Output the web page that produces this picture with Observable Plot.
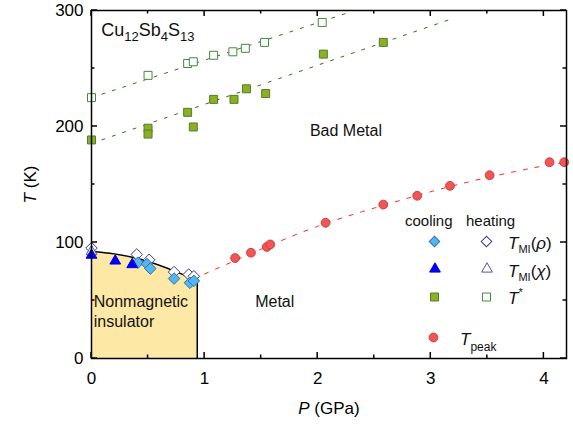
<!DOCTYPE html>
<html><head><meta charset="utf-8">
<script src="https://cdn.jsdelivr.net/npm/d3@7"></script>
<script src="https://cdn.jsdelivr.net/npm/@observablehq/plot@0.6"></script>
<style>
body{margin:0;background:#fff;}
#chart{position:relative;width:573px;height:425px;}
</style></head><body><div id="chart"></div>
<script>
// ---- data (P in GPa, T in K) ----
const tStarHeatP = [0.0, 0.5, 0.85, 0.9, 1.08, 1.25, 1.36, 1.53, 2.04];
const tStarHeatT = [224.9, 244.1, 254.3, 255.8, 261.4, 264.4, 267.4, 272.5, 289.7];
const tStarCoolP = [0.0, 0.5, 0.5, 0.85, 0.9, 1.08, 1.26, 1.37, 1.54, 2.05, 2.58];
const tStarCoolT = [188.4, 198.5, 193.5, 212.2, 199.6, 223.4, 223.4, 232.5, 228.4, 262.4, 272.5];
const tPeakP = [1.27, 1.41, 1.55, 1.58, 2.07, 2.58, 2.88, 3.17, 3.52, 4.05, 4.18];
const tPeakT = [86.6, 91.2, 96.2, 98.3, 117, 132.7, 140.3, 148.9, 158, 169.2, 169.2];
const rhoCoolP = [0.41, 0.49, 0.52, 0.73, 0.87, 0.905];
const rhoCoolT = [82.6, 81.5, 77.5, 68.9, 65.3, 66.9];
const rhoHeatP = [0.0, 0.40, 0.51, 0.73, 0.86, 0.905];
const rhoHeatT = [95.2, 89.7, 85.1, 74.5, 72.4, 70.9];
const chiCoolP = [0.0, 0.21, 0.36];
const chiCoolT = [89.1, 84.1, 81];
const chiHeatP = [0.0];
const chiHeatT = [92.2];
// insulator boundary
const insulP = [0, 0.2, 0.45, 0.73, 0.935];
const insulT = [92.2, 90.2, 85.1, 75.5, 66.9];
// guide lines
const fitUpperP = [0, 2.29], fitUpperT = [224.9, 298.8];
const fitLowerP = [0, 3.2], fitLowerT = [185.4, 293.3];
const fitPeakP = [1.0, 1.5, 2.0, 2.5, 3.0, 3.5, 4.0, 4.2];
const fitPeakT = [72.9, 94.2, 114, 129.7, 143.8, 156, 166.1, 169.2];
// ticks
const xMajor = [0, 1, 2, 3, 4], xMinor = [0.5, 1.5, 2.5, 3.5];
const yMajor = [0, 100, 200, 300], yMinor = [50, 150, 250];
// annotations
const annoText = ["Bad Metal", "Metal", "Nonmagnetic", "insulator"];
const annoP = [2.25, 1.62, 0.02, 0.02];
const annoT = [196.5, 48.6, 49.1, 31.4];
const annoAnchor = ["middle", "middle", "start", "start"];
const formula = "Cu12Sb4S13", formulaP = 0.086, formulaT = 282.6;

const xDomain = [0, 4.2], yDomain = [0, 300];
const zip = (P, T) => P.map((p, i) => ({P: p, T: T[i]}));
const insul = zip(insulP, insulT);
const anno = annoText.map((t, i) => ({t, P: annoP[i], T: annoT[i], a: annoAnchor[i]}));
const C = {
  blueFill: "#55b6ea", blueStroke: "#2a6fc0", tri: "#0000ee", openBlue: "#3a3a8c",
  greenFill: "#8fae22", greenStroke: "#4b7f2c", openGreen: "#3f8a3f", dashGreen: "#3d6b1a",
  red: "#f05656", redStroke: "#d63a3a", yellow: "#fde8a6"
};

const plot = Plot.plot({
  width: 573, height: 425,
  marginLeft: 91, marginRight: 7, marginTop: 10, marginBottom: 67,
  style: {fontFamily: "'Liberation Sans', Arial, sans-serif", fontSize: "17px", color: "black", background: "white"},
  x: {domain: xDomain},
  y: {domain: yDomain},
  marks: [
    Plot.areaY(insul, {x: "P", y: "T", fill: C.yellow, curve: "monotone-x"}),
    Plot.line(insul, {x: "P", y: "T", stroke: "black", strokeWidth: 1.5, curve: "monotone-x"}),
    Plot.ruleX([insul[insul.length - 1]], {x: "P", y1: 0, y2: "T", stroke: "black", strokeWidth: 1.5}),
    Plot.line(zip(fitUpperP, fitUpperT), {x: "P", y: "T", stroke: C.dashGreen, strokeWidth: 1, strokeDasharray: "3,8"}),
    Plot.line(zip(fitLowerP, fitLowerT), {x: "P", y: "T", stroke: C.dashGreen, strokeWidth: 1, strokeDasharray: "3,8"}),
    Plot.line(zip(fitPeakP, fitPeakT), {x: "P", y: "T", stroke: "#ff2020", strokeWidth: 1, strokeDasharray: "4,8", curve: "natural"}),
    Plot.dot(zip(tStarHeatP, tStarHeatT), {x: "P", y: "T", symbol: "square", r: 4.5, fill: "white", stroke: C.openGreen, strokeWidth: 1}),
    Plot.dot(zip(tStarCoolP, tStarCoolT), {x: "P", y: "T", symbol: "square", r: 4.5, fill: C.greenFill, stroke: C.greenStroke, strokeWidth: 1}),
    Plot.dot(zip(tPeakP, tPeakT), {x: "P", y: "T", r: 4.4, fill: C.red, stroke: C.redStroke, strokeWidth: 1}),
    Plot.dot(zip(rhoHeatP, rhoHeatT), {x: "P", y: "T", symbol: "diamond2", r: 5.2, fill: "white", stroke: C.openBlue, strokeWidth: 1}),
    Plot.dot(zip(chiHeatP, chiHeatT), {x: "P", y: "T", symbol: "triangle", r: 4, fill: "white", stroke: "#5555aa", strokeWidth: 1}),
    Plot.dot(zip(rhoCoolP, rhoCoolT), {x: "P", y: "T", symbol: "diamond2", r: 5.2, fill: C.blueFill, stroke: C.blueStroke, strokeWidth: 1}),
    Plot.dot(zip(chiCoolP, chiCoolT), {x: "P", y: "T", symbol: "triangle", r: 4, fill: C.tri, stroke: C.tri, strokeWidth: 1}),
    Plot.text(anno.filter(d => d.a === "middle"), {x: "P", y: "T", text: "t", fontSize: 16, textAnchor: "middle", fill: "#111"}),
    Plot.text(anno.filter(d => d.a === "start"), {x: "P", y: "T", text: "t", fontSize: 16, textAnchor: "start", fill: "#111"}),
    Plot.text([{t: formula, P: formulaP, T: formulaT}], {x: "P", y: "T", text: "t", fontSize: 18, textAnchor: "start", fill: "#111", className: "formula"}),
    Plot.axisX({ticks: xMajor, tickSize: 0, tickPadding: 13, tickFormat: d => d, label: "P (GPa)", labelAnchor: "center", labelOffset: 55, labelArrow: "none"}),
    Plot.axisY({ticks: yMajor, tickSize: 0, tickPadding: 8, tickFormat: d => d, label: "T (K)", labelAnchor: "center", labelOffset: 68, labelArrow: "none"}),
    Plot.frame({stroke: "black", strokeWidth: 1.5})
  ]
});
document.getElementById("chart").appendChild(plot);

const svg = d3.select(plot);
svg.selectAll("[aria-label='x-axis label'] text").each(function() {
  this.innerHTML = '<tspan font-style="italic">P</tspan> (GPa)';
});
svg.selectAll("[aria-label='y-axis label'] text").each(function() {
  this.innerHTML = '<tspan font-style="italic">T</tspan> (K)';
});
svg.selectAll(".formula text").each(function() {
  this.innerHTML = 'Cu<tspan font-size="13" dy="5">12</tspan><tspan dy="-5">Sb</tspan><tspan font-size="13" dy="5">4</tspan><tspan dy="-5">S</tspan><tspan font-size="13" dy="5">13</tspan>';
});

// inward ticks on all four sides, placed with Plot's own scales
const sx = plot.scale("x"), sy = plot.scale("y");
const X0 = sx.apply(xDomain[0]), X1 = sx.apply(xDomain[1]);
const Y0 = sy.apply(yDomain[0]), Y1 = sy.apply(yDomain[1]);
const tg = svg.append("g").attr("stroke", "black").attr("stroke-width", 1.5);
const addX = (vals, len) => vals.forEach(v => {
  const px = sx.apply(v);
  tg.append("line").attr("x1", px).attr("x2", px).attr("y1", Y0).attr("y2", Y0 - len);
  tg.append("line").attr("x1", px).attr("x2", px).attr("y1", Y1).attr("y2", Y1 + len);
});
const addY = (vals, len) => vals.forEach(v => {
  const py = sy.apply(v);
  tg.append("line").attr("y1", py).attr("y2", py).attr("x1", X0).attr("x2", X0 + len);
  tg.append("line").attr("y1", py).attr("y2", py).attr("x1", X1).attr("x2", X1 - len);
});
addX(xMajor, 6); addX(xMinor, 3.5); addY(yMajor, 6); addY(yMinor, 3.5);

// legend
const lg = svg.append("g").attr("font-family", "'Liberation Sans', Arial, sans-serif").attr("fill", "#111").attr("text-anchor", "start");
lg.append("text").attr("x", 405).attr("y", 226).attr("font-size", 15).text("cooling");
lg.append("text").attr("x", 466).attr("y", 226).attr("font-size", 15).text("heating");
const sym = (type, size, x, y, fill, stroke, rot) =>
  lg.append("path").attr("d", d3.symbol(type, size)()).attr("transform", `translate(${x},${y})` + (rot ? " rotate(45)" : ""))
    .attr("fill", fill).attr("stroke", stroke).attr("stroke-width", 1);
sym(d3.symbolSquare, 56, 434.5, 241.5, C.blueFill, C.blueStroke, true);
sym(d3.symbolSquare, 56, 486.5, 241.5, "white", C.openBlue, true);
sym(d3.symbolTriangle, 50, 435, 269, C.tri, C.tri);
sym(d3.symbolTriangle, 50, 487, 269, "white", "#5555aa");
sym(d3.symbolSquare, 64, 434.5, 297, C.greenFill, C.greenStroke);
sym(d3.symbolSquare, 64, 486.5, 297, "white", C.openGreen);
sym(d3.symbolCircle, 61, 433.5, 337.5, C.red, C.redStroke);
const lab = (x, y, html) => { const t = lg.append("text").attr("x", x).attr("y", y).attr("font-size", 17); t.node().innerHTML = html; };
lab(508, 249, '<tspan font-style="italic">T</tspan><tspan font-size="11" dy="4">MI</tspan><tspan dy="-4">(</tspan><tspan font-style="italic">ρ</tspan>)');
lab(508, 277, '<tspan font-style="italic">T</tspan><tspan font-size="11" dy="4">MI</tspan><tspan dy="-4">(</tspan><tspan font-style="italic">χ</tspan>)');
lab(508, 304, '<tspan font-style="italic">T</tspan><tspan font-size="11" dy="-8">*</tspan>');
lab(460, 345, '<tspan font-style="italic">T</tspan><tspan font-size="12" dy="6">peak</tspan>');
</script></body></html>
